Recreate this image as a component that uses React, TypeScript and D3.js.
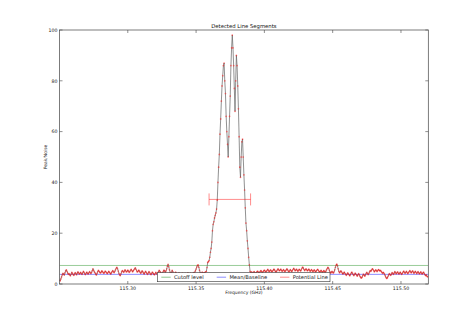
import React from 'react';
import * as d3 from 'd3';

const freqStart = 115.25;
const channelWidth = 0.0005;

const noiseBefore = [
  1.5, 1.2, 2.0, 2.8, 3.6, 4.2, 3.9, 3.5, 4.4, 5.2, 5.6,
  5.0, 4.3, 3.8, 4.1, 3.6, 3.2, 3.9, 4.6, 4.2, 3.7,
  3.4, 4.0, 4.5, 4.1, 3.6, 4.3, 4.8, 4.4, 3.9, 4.2,
  4.6, 4.1, 3.8, 4.4, 5.0, 4.6, 4.0, 3.7, 4.3, 4.7,
  4.2, 3.9, 4.4, 4.9, 4.5, 4.1, 4.6, 5.3, 6.0, 5.4,
  4.8, 4.4, 3.9, 3.5, 4.2, 4.9, 5.4, 5.0, 4.6, 4.3,
  4.7, 5.2, 4.9, 4.5, 4.2, 4.6, 5.1, 4.8, 4.4, 4.1,
  4.5, 5.0, 4.7, 4.3, 3.9, 4.4, 4.9, 5.3, 4.8, 4.5,
  5.0, 5.6, 6.2, 6.6, 6.0, 5.1, 4.2, 3.6, 3.3, 4.0,
  4.8, 5.3, 5.0, 4.6, 5.1, 5.6, 5.2, 4.7, 5.0, 5.5,
  5.1, 4.6, 4.9, 5.4, 5.8, 5.3, 4.8, 5.2, 5.6, 6.0,
  6.4, 5.8, 5.2, 4.7, 5.0, 5.5, 5.1, 4.6, 4.2, 4.7,
  5.2, 4.8, 4.3, 3.9, 4.5, 5.0, 4.6, 4.1, 3.8, 4.4,
  4.9, 4.5, 4.0, 3.7, 4.2, 4.7, 4.3, 3.9, 3.6, 4.1,
  4.6, 4.2, 3.8, 4.3, 4.9, 5.4, 5.0, 4.6, 4.1, 3.8,
  4.4, 5.0, 5.5, 5.1, 4.6, 5.2, 6.0, 7.0, 7.7, 6.8,
  5.6, 4.6, 4.0, 4.6, 5.4, 4.8, 4.1, 3.7, 4.2, 4.7,
  4.3, 3.9, 3.5, 3.9, 4.4, 4.0, 3.6, 3.3, 3.8, 4.3,
  3.9, 3.5, 3.8, 4.2, 3.7, 3.4, 3.9, 4.4, 4.0, 3.6,
  3.9, 4.3, 3.8, 3.5, 4.0,
  4.5, 4.2, 4.6, 5.2, 5.9, 6.7, 7.3, 7.5, 6.6, 5.4, 4.5, 4.0, 4.3, 4.7, 4.4, 4.2, 4.5,
];

const lineChannels = [
  4.5, 4.8, 5.0, 6.5, 8.5, 8.8, 9.2, 10.5, 12.5, 14, 16.5, 21, 23.5, 24.5, 26, 27, 28, 29.5,
  33, 40, 46, 51, 59, 65, 72, 78, 82, 86, 87, 80, 75, 66, 60, 55, 50, 58, 66, 74, 86, 93, 98,
  93, 86, 77, 68, 80, 90, 86, 78, 69, 58, 46, 42, 50, 56, 57, 50, 43, 37, 30, 24, 21, 17, 14,
  10.5, 7.5, 5, 4.5, 4.8,
];

const noiseAfter = [
  4.5, 4.2, 4.6, 4.9, 4.5, 4.1, 4.4, 4.8, 5.1, 4.7,
  4.3, 4.6, 5.0, 5.3, 4.9, 4.5, 4.8, 5.2, 5.5, 5.1,
  4.7, 5.0, 5.4, 5.8, 5.3, 4.9, 5.2, 5.6, 5.2, 4.8,
  5.1, 5.5, 5.9, 5.5, 5.0, 4.7, 5.1, 5.6, 6.0, 5.6,
  5.2, 5.5, 5.9, 5.4, 5.0, 5.3, 5.7, 5.3, 4.9, 5.2,
  5.6, 6.0, 5.6, 5.1, 4.8, 5.2, 5.7, 5.3, 4.9, 5.3,
  5.8, 6.2, 5.7, 5.2, 5.5, 5.9, 5.4, 5.0, 5.4, 5.8,
  5.5, 5.1, 5.6, 6.2, 6.7, 6.3, 5.7, 5.3, 5.7, 6.0,
  5.6, 5.2, 5.5, 5.9, 5.5, 5.0, 5.3, 5.7, 5.3, 4.9,
  5.2, 5.6, 5.2, 4.8, 5.1, 5.5, 5.8, 5.4, 5.0, 4.7,
  5.0, 5.4, 5.0, 4.6, 4.9, 5.3, 5.0, 4.6, 5.0, 5.6,
  6.1, 6.6, 6.2, 5.5, 4.8, 4.3, 4.6, 5.0, 4.6, 4.3,
  4.8, 5.6, 6.6, 7.4, 7.8, 7.2, 6.0, 5.0, 4.4, 4.8,
  5.2, 4.8, 4.3, 3.9, 4.3, 4.7, 4.2, 3.8, 3.4, 3.9,
  4.4, 4.0, 3.6, 3.2, 3.7, 4.3, 4.7, 4.2, 3.7, 3.3,
  3.8, 4.3, 3.9, 3.5, 3.1, 3.6, 4.1, 3.6, 3.0, 2.6,
  2.3, 2.7, 3.3, 3.9, 3.5, 3.1, 3.6, 4.2, 4.6, 4.1,
  3.7, 4.2, 4.8, 5.3, 5.0, 5.5, 6.0, 5.8, 5.3, 4.8,
  5.2, 5.6, 5.3, 4.9, 5.3, 5.7, 5.5, 5.1, 5.4, 5.0,
  4.6, 4.2, 4.6, 4.3, 3.8, 3.2, 2.6, 2.2, 2.4, 3.0,
  3.6, 4.1, 3.7, 3.4, 3.9, 4.5, 4.2, 3.8, 4.3, 4.9,
  4.5, 4.0, 4.4, 4.8, 4.3, 3.9, 4.3, 4.7, 4.2, 3.8,
  4.2, 4.7, 5.1, 4.6, 4.2, 4.6, 5.0, 4.5, 4.1, 4.5,
  4.9, 5.3, 4.8, 4.4, 4.8, 5.2, 4.7, 4.2, 4.6, 5.0,
  4.6, 4.1, 4.5, 4.9, 4.4, 4.0, 4.4, 4.8, 4.3, 3.9,
  4.3, 4.7, 4.2, 3.7, 3.3, 3.6, 3.1, 2.8,
];

const cutoffLevel = 7.3;
const baselineMean = 3.8;
const lineSegmentStart = 115.3595;
const lineSegmentEnd = 115.3899;
const lineSegmentLevel = 33.3;

const xDomain = [115.25, 115.52];
const yDomain = [0, 100];
const xTicks = [115.3, 115.35, 115.4, 115.45, 115.5];
const yTicks = [0, 20, 40, 60, 80, 100];

const legendLabels = ['Cutoff level', 'Mean/Baseline', 'Potential Line'];
const legendColors = ['#008000', '#0000ff', '#ff0000'];

export default function App() {
  const W = 475;
  const H = 316;
  const left = 59.5;
  const right = 428.3;
  const top = 30;
  const bottom = 284;

  const values = [...noiseBefore, ...lineChannels, ...noiseAfter];
  const data = values.map((v, i) => ({ f: freqStart + i * channelWidth, v }));

  const x = d3.scaleLinear().domain(xDomain).range([left, right]);
  const y = d3.scaleLinear().domain(yDomain).range([bottom, top]);

  const line = d3
    .line<{ f: number; v: number }>()
    .x((d) => x(d.f))
    .y((d) => y(d.v));

  const font = 'DejaVu Sans, sans-serif';
  const tickLen = 3;

  const legendX = 157.3;
  const legendY = 272.7;
  const legendW = 172.7;
  const legendH = 9;
  const legendOffsets = [4, 59.4, 122.7];

  return (
    <svg
      width={W}
      height={H}
      style={{ position: 'absolute', left: 0, top: 0, background: '#fff' }}
      fontFamily={font}
    >
      <rect x={0} y={0} width={W} height={H} fill="#fff" />
      <defs>
        <clipPath id="plotClip">
          <rect x={left} y={top} width={right - left} height={bottom - top} />
        </clipPath>
      </defs>

      <g clipPath="url(#plotClip)">
        <line x1={left} x2={right} y1={y(cutoffLevel)} y2={y(cutoffLevel)} stroke={legendColors[0]} strokeOpacity={0.45} strokeWidth={0.9} />
        <line x1={left} x2={right} y1={y(baselineMean)} y2={y(baselineMean)} stroke={legendColors[1]} strokeOpacity={0.5} strokeWidth={0.9} />

        <path d={line(data) || ''} fill="none" stroke="#666" strokeWidth={0.9} strokeOpacity={0.8} />
        {data.map((d, i) => (
          <circle key={i} cx={x(d.f)} cy={y(d.v)} r={0.85} fill="#ff0000" fillOpacity={0.5} />
        ))}

        <g stroke={legendColors[2]} strokeOpacity={0.5} strokeWidth={0.9}>
          <line x1={x(lineSegmentStart)} x2={x(lineSegmentEnd)} y1={y(lineSegmentLevel)} y2={y(lineSegmentLevel)} />
          <line x1={x(lineSegmentStart)} x2={x(lineSegmentStart)} y1={y(lineSegmentLevel) - 6} y2={y(lineSegmentLevel) + 6} />
          <line x1={x(lineSegmentEnd)} x2={x(lineSegmentEnd)} y1={y(lineSegmentLevel) - 6} y2={y(lineSegmentLevel) + 6} />
        </g>
      </g>

      <rect x={left} y={top} width={right - left} height={bottom - top} fill="none" stroke="#444" strokeWidth={0.7} />

      {xTicks.map((t) => (
        <g key={t}>
          <line x1={x(t)} x2={x(t)} y1={bottom} y2={bottom - tickLen} stroke="#444" strokeWidth={0.6} />
          <line x1={x(t)} x2={x(t)} y1={top} y2={top + tickLen} stroke="#444" strokeWidth={0.6} />
          <text x={x(t)} y={bottom + 5.5} fontSize={4.7} textAnchor="middle" fill="#222">
            {t.toFixed(2)}
          </text>
        </g>
      ))}

      {yTicks.map((t) => (
        <g key={t}>
          <line x1={left} x2={left + tickLen} y1={y(t)} y2={y(t)} stroke="#444" strokeWidth={0.6} />
          <line x1={right} x2={right - tickLen} y1={y(t)} y2={y(t)} stroke="#444" strokeWidth={0.6} />
          <text x={left - 2} y={y(t) + 1.7} fontSize={4.7} textAnchor="end" fill="#222">
            {t}
          </text>
        </g>
      ))}

      <text x={(left + right) / 2} y={27.7} fontSize={5.3} textAnchor="middle" fill="#111">
        Detected Line Segments
      </text>
      <text x={(left + right) / 2} y={294.3} fontSize={4.5} textAnchor="middle" fill="#222">
        Frequency (GHz)
      </text>
      <text
        transform={`translate(47.3, ${(top + bottom) / 2}) rotate(-90)`}
        fontSize={4.5}
        textAnchor="middle"
        fill="#222"
      >
        Peak/Noise
      </text>

      <rect x={legendX} y={legendY} width={legendW} height={legendH} fill="#fff" stroke="#333" strokeWidth={0.6} />
      {legendLabels.map((lab, i) => (
        <g key={lab} transform={`translate(${legendX + legendOffsets[i]}, ${legendY + legendH / 2})`}>
          <line x1={0} x2={9.4} y1={0} y2={0} stroke={legendColors[i]} strokeOpacity={0.5} strokeWidth={0.9} />
          <text x={12.7} y={1.8} fontSize={5.2} fill="#222">
            {lab}
          </text>
        </g>
      ))}
    </svg>
  );
}
